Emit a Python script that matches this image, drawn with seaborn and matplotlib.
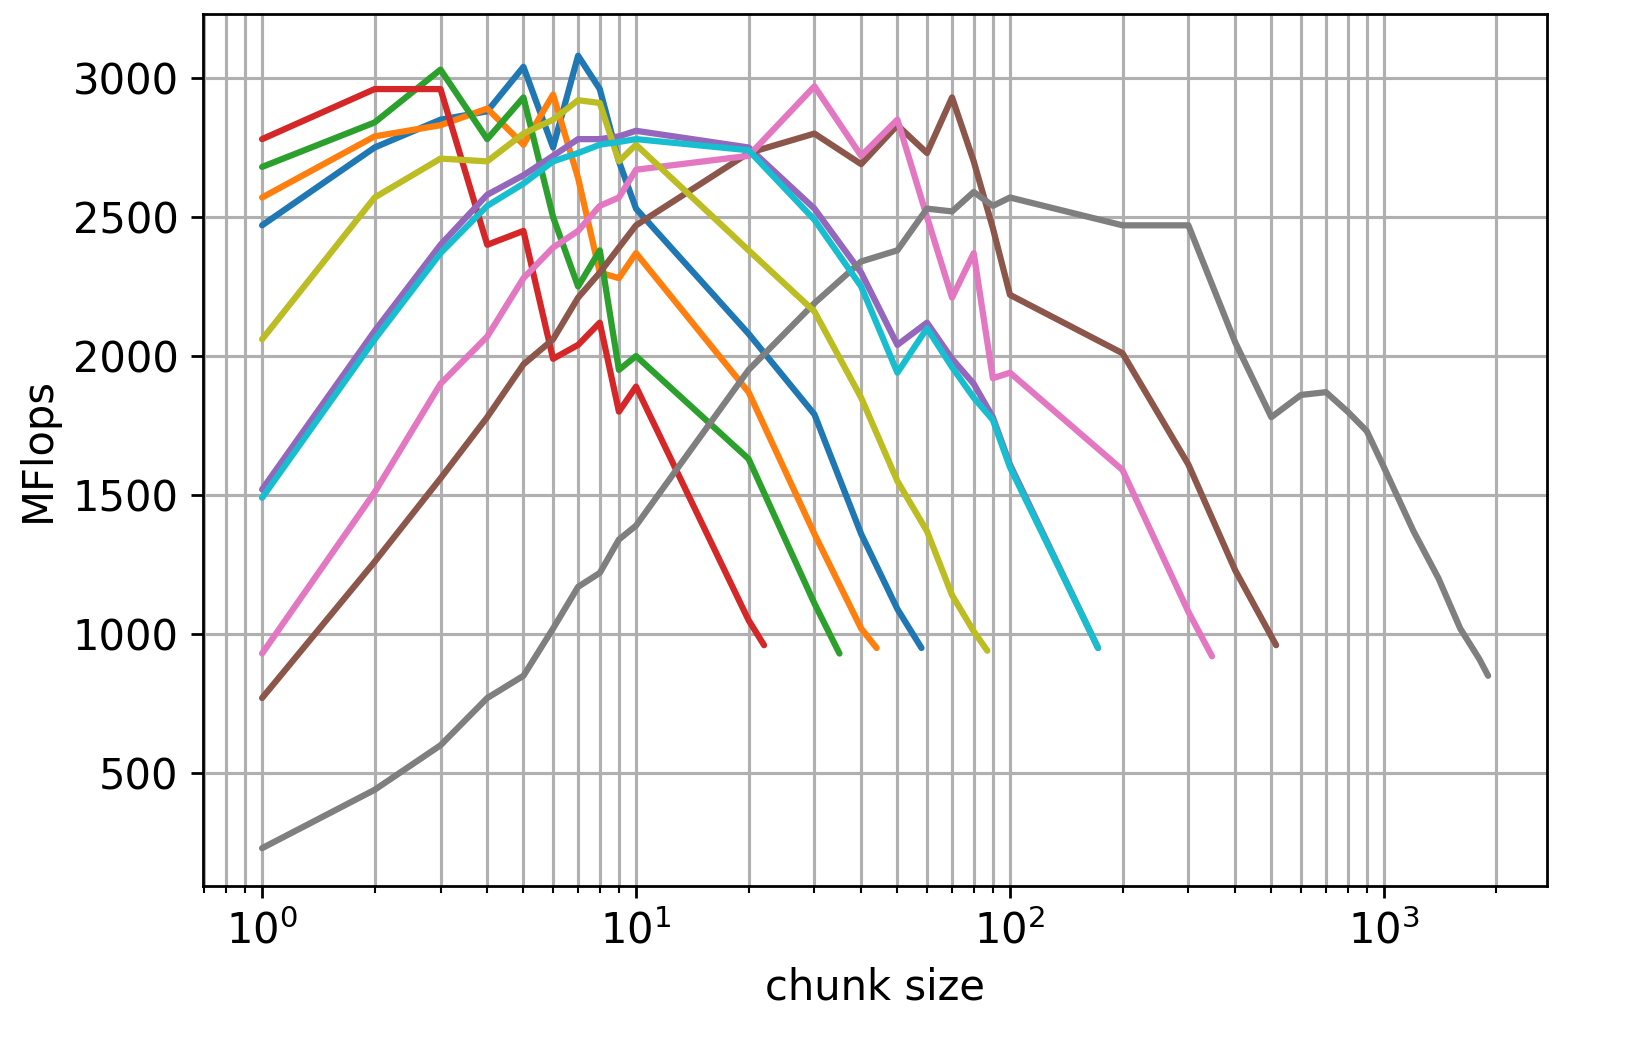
import numpy as np
import pandas as pd
import matplotlib.pyplot as plt
import seaborn as sns

base = [1, 2, 3, 4, 5, 6, 7, 8, 9, 10]
mid = [20, 30, 40, 50, 60, 70, 80, 90, 100]

x_blue = base + [20, 30, 40, 50, 58]
y_blue = [2470, 2750, 2850, 2880, 3040, 2750, 3080, 2960, 2700, 2530, 2080, 1790, 1360, 1090, 950]
x_orange = base + [20, 30, 40, 44]
y_orange = [2570, 2790, 2830, 2890, 2760, 2940, 2640, 2300, 2280, 2370, 1870, 1360, 1020, 950]
x_green = base + [20, 30, 35]
y_green = [2680, 2840, 3030, 2780, 2930, 2500, 2250, 2380, 1950, 2000, 1630, 1110, 930]
x_red = base + [20, 22]
y_red = [2780, 2960, 2960, 2400, 2450, 1990, 2040, 2120, 1800, 1890, 1050, 960]
x_purple = base + mid + [172]
y_purple = [1520, 2090, 2400, 2580, 2650, 2720, 2780, 2780, 2790, 2810,
            2750, 2530, 2300, 2040, 2120, 1990, 1900, 1780, 1610, 950]
x_brown = base + mid + [200, 300, 400, 515]
y_brown = [770, 1260, 1560, 1780, 1970, 2060, 2210, 2300, 2390, 2470,
           2730, 2800, 2690, 2830, 2730, 2930, 2700, 2460, 2220, 2010, 1610, 1230, 960]
x_pink = base + mid + [200, 300, 347]
y_pink = [930, 1510, 1900, 2070, 2280, 2390, 2450, 2540, 2570, 2670,
          2720, 2970, 2720, 2850, 2500, 2210, 2370, 1920, 1940, 1590, 1080, 920]
x_gray = base + mid + [200, 300, 400, 500, 600, 700, 800, 900, 1000, 1200, 1400, 1600, 1800, 1900]
y_gray = [230, 440, 600, 770, 850, 1020, 1170, 1220, 1340, 1390,
          1950, 2190, 2340, 2380, 2530, 2520, 2590, 2540, 2570,
          2470, 2470, 2050, 1780, 1860, 1870, 1800, 1730, 1600, 1370, 1200, 1020, 910, 850]
x_olive = base + [20, 30, 40, 50, 60, 70, 80, 87]
y_olive = [2060, 2570, 2710, 2700, 2800, 2850, 2920, 2910, 2700, 2760,
           2380, 2160, 1850, 1550, 1370, 1140, 1010, 940]
x_cyan = base + mid + [172]
y_cyan = [1490, 2060, 2370, 2540, 2620, 2700, 2730, 2760, 2770, 2780,
          2740, 2490, 2250, 1940, 2100, 1960, 1850, 1770, 1600, 950]

series = [x_blue, x_orange, x_green, x_red, x_purple, x_brown, x_pink, x_gray, x_olive, x_cyan]
values = [y_blue, y_orange, y_green, y_red, y_purple, y_brown, y_pink, y_gray, y_olive, y_cyan]

frames = []
for i, (xs, ys) in enumerate(zip(series, values)):
    frames.append(pd.DataFrame({"chunk": xs, "mflops": ys, "run": i}))
df = pd.concat(frames, ignore_index=True)

sns.set_style("ticks")
plt.rcParams['font.family'] = ['DejaVu Sans']
plt.rcParams.update({'font.size': 12, 'text.color': 'black', 'axes.labelcolor': 'black',
                     'xtick.color': 'black', 'ytick.color': 'black',
                     'axes.edgecolor': 'black'})
fig, ax = plt.subplots(figsize=(6.504, 4.212), dpi=250)
sns.lineplot(data=df, x="chunk", y="mflops", hue="run", palette="tab10",
             legend=False, ax=ax, linewidth=1.8, estimator=None, sort=False)
ax.set_xscale("log")
ax.set_xlim(0.695, 2730)
ax.set_ylim(94, 3230)
ax.grid(True, which="both", axis="x", color="#b0b0b0", linewidth=0.9)
ax.grid(True, which="major", axis="y", color="#b0b0b0", linewidth=0.9)
ax.set_axisbelow(True)
ax.tick_params(labelsize=12)
ax.set_xlabel("chunk size", fontsize=12)
ax.set_ylabel("MFlops", fontsize=12)
fig.subplots_adjust(left=203/1626, right=1547/1626, top=1-14/1053, bottom=1-886/1053)
fig.savefig("out.png", dpi=250)
